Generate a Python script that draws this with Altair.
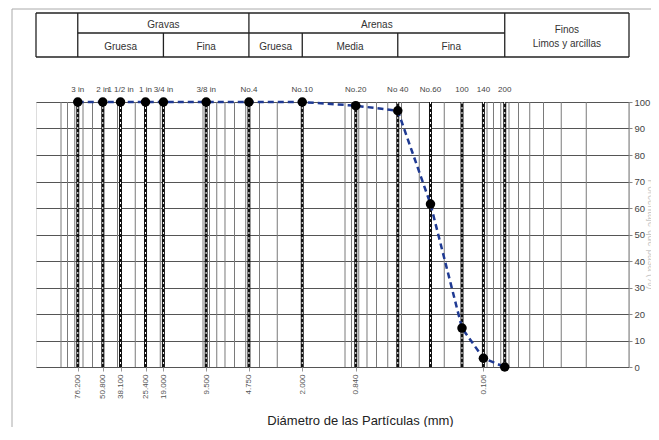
import math
import altair as alt
import pandas as pd

# ---- data ----
sieve_labels = ["3 in", "2 in", "1 1/2 in", "1 in", "3/4 in", "3/8 in", "No.4",
                "No.10", "No.20", "No 40", "No.60", "100", "140", "200"]
sieve_mm = [76.2, 50.8, 38.1, 25.4, 19.0, 9.5, 4.75, 2.0, 0.84, 0.425, 0.25,
            0.15, 0.106, 0.075]
pct_passing = [100, 100, 100, 100, 100, 100, 100, 100, 98.6, 96.7, 61.5,
               14.7, 3.3, 0.0]
axis_label_mm = [76.2, 50.8, 38.1, 25.4, 19.0, 9.5, 4.75, 2.0, 0.84, 0.106]
y_ticks = [0, 10, 20, 30, 40, 50, 60, 70, 80, 90, 100]
grid_mm = [round(k * 10 ** n, 4) for n in range(-2, 3) for k in range(1, 10)
           if k * 10 ** n <= 150]

# classification table (top)
table_full_edges = [150, 76.2, 4.75, 0.075, 0.01]
table_lower_edges = [19.0, 2.0, 0.425]
top_row_names = ["Gravas", "Arenas"]
top_row_a = [76.2, 4.75]
top_row_b = [4.75, 0.075]
low_row_names = ["Gruesa", "Fina", "Gruesa", "Media", "Fina"]
low_row_a = [76.2, 19.0, 4.75, 2.0, 0.425]
low_row_b = [19.0, 4.75, 2.0, 0.425, 0.075]
fines_lines = ["Finos", "Limos y arcillas"]

W, H = 593, 265
FONT = "Liberation Sans"

x_scale = alt.Scale(type="log", domain=[0.01, 150], reverse=True, nice=False)
x_axis = alt.Axis(values=axis_label_mm, format=".3f", labelAngle=270,
                  labelFontSize=8, labelColor="#555", labelPadding=3,
                  tickSize=4, tickColor="#999", domain=False, grid=False,
                  labelOverlap=False, labelFlush=False,
                  title="Diámetro de las Partículas (mm)", titleFontSize=13,
                  titleFontWeight="normal", titleColor="#222",
                  titleX=324, titleY=53, titleBaseline="middle")
X = alt.X("mm:Q", scale=x_scale, axis=x_axis)

y_axis = alt.Axis(orient="right", values=y_ticks, grid=True, gridColor="#555",
                  gridWidth=1, tickColor="#888", tickSize=3, labelPadding=2,
                  labelFontSize=9.5, labelColor="#444", domain=False,
                  title="Porcentaje que pasa (%)", titleColor="#c8c8c8",
                  titleFontSize=10, titleFontWeight="normal", titleAngle=90,
                  titleX=21, titleY=132, titleBaseline="middle")
Y = alt.Y("pct:Q", scale=alt.Scale(domain=[0, 100], nice=False), axis=y_axis)

main = pd.DataFrame({"mm": sieve_mm, "pct": pct_passing, "lab": sieve_labels})
grid_df = pd.DataFrame({"mm": grid_mm})

vgrid = alt.Chart(grid_df).mark_rule(color="#7a7a7a", strokeWidth=1).encode(x=X)

sieve_black = alt.Chart(main).mark_rule(color="#111", strokeWidth=3).encode(x=X)
sieve_white = alt.Chart(main).mark_rule(color="white", strokeWidth=1,
                                        strokeDash=[2, 3]).encode(x=X)

curve = alt.Chart(main).mark_line(color="#1f3a93", strokeWidth=2.5,
                                  strokeDash=[6, 4]).encode(x=X, y=Y)
pts = alt.Chart(main).mark_circle(color="black", size=90, opacity=1).encode(x=X, y=Y)

toplabels = alt.Chart(main).mark_text(fontSize=8, color="#444", font=FONT,
                                      baseline="middle").encode(
    x=X, y=alt.value(-12), text="lab:N")

# table
full_df = pd.DataFrame({"mm": table_full_edges})
lower_df = pd.DataFrame({"mm": table_lower_edges})
tab_v_full = alt.Chart(full_df).mark_rule(color="#222", strokeWidth=1.3).encode(
    x=X, y=alt.value(-89), y2=alt.value(-45))
tab_v_low = alt.Chart(lower_df).mark_rule(color="#222", strokeWidth=1.3).encode(
    x=X, y=alt.value(-69), y2=alt.value(-45))
hl_df = pd.DataFrame({"mm": [150, 76.2, 150], "mm2": [0.01, 0.075, 0.01],
                      "row": ["top", "mid", "bottom"]})
tab_h_top = alt.Chart(hl_df[hl_df.row == "top"]).mark_rule(
    color="#222", strokeWidth=1.3).encode(x=X, x2="mm2:Q", y=alt.value(-89))
tab_h_mid = alt.Chart(hl_df[hl_df.row == "mid"]).mark_rule(
    color="#222", strokeWidth=1.3).encode(x=X, x2="mm2:Q", y=alt.value(-69))
tab_h_bot = alt.Chart(hl_df[hl_df.row == "bottom"]).mark_rule(
    color="#222", strokeWidth=1.3).encode(x=X, x2="mm2:Q", y=alt.value(-45))

top_df = pd.DataFrame({"name": top_row_names,
                       "mm": [math.sqrt(a * b) for a, b in zip(top_row_a, top_row_b)]})
low_df = pd.DataFrame({"name": low_row_names,
                       "mm": [math.sqrt(a * b) for a, b in zip(low_row_a, low_row_b)]})
fin_df = pd.DataFrame({"name": fines_lines, "mm": [math.sqrt(0.075 * 0.01)] * 2,
                       "row": [0, 1]})
txt_top = alt.Chart(top_df).mark_text(fontSize=10, color="#333", font=FONT,
                                      baseline="middle").encode(
    x=X, y=alt.value(-77), text="name:N")
txt_low = alt.Chart(low_df).mark_text(fontSize=10, color="#333", font=FONT,
                                      baseline="middle").encode(
    x=X, y=alt.value(-55), text="name:N")
txt_fin1 = alt.Chart(fin_df[fin_df.row == 0]).mark_text(
    fontSize=10, color="#333", font=FONT, baseline="middle").encode(
    x=X, y=alt.value(-72), text="name:N")
txt_fin2 = alt.Chart(fin_df[fin_df.row == 1]).mark_text(
    fontSize=10, color="#333", font=FONT, baseline="middle").encode(
    x=X, y=alt.value(-58), text="name:N")

# outer picture frame (left & top)
frame_l = alt.Chart(pd.DataFrame({"a": [0]})).mark_rule(color="#aaa", strokeWidth=1).encode(
    x=alt.value(-24), y=alt.value(-93), y2=alt.value(325))
frame_t = alt.Chart(pd.DataFrame({"a": [0]})).mark_rule(color="#aaa", strokeWidth=1).encode(
    x=alt.value(-24), x2=alt.value(615), y=alt.value(-93))

chart = alt.layer(
    vgrid, sieve_black, sieve_white, curve, pts, toplabels,
    tab_v_full, tab_v_low, tab_h_top, tab_h_mid, tab_h_bot,
    txt_top, txt_low, txt_fin1, txt_fin2, frame_l, frame_t
).properties(
    width=W, height=H,
    autosize=alt.AutoSizeParams(type="none"),
    padding={"left": 28, "top": 94, "right": 22, "bottom": 60},
).configure_view(
    stroke="black", strokeWidth=1.5
).configure(font=FONT, background="white")

chart.save("out.html", embed_options={"renderer": "svg", "actions": False})
